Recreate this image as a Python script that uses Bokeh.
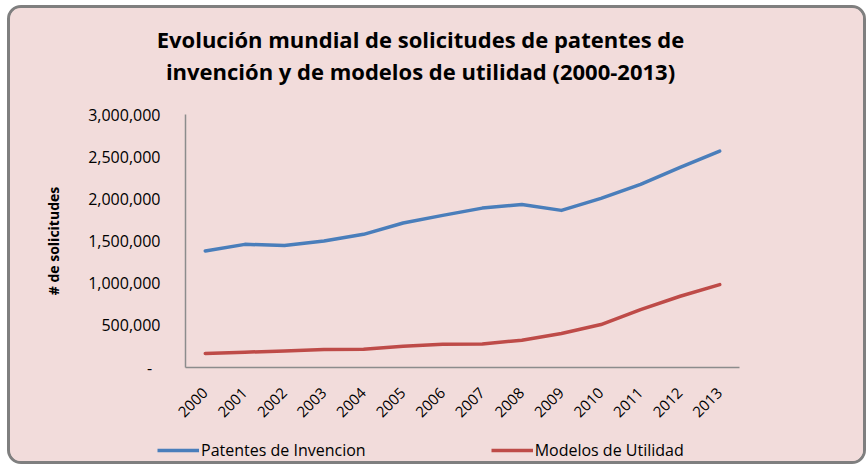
import math
from bokeh.plotting import figure
from bokeh.layouts import column
from bokeh.models import (FactorRange, Range1d, FixedTicker, Legend, LegendItem, Label)
from bokeh.embed import file_html
from bokeh.resources import INLINE

years = [str(y) for y in range(2000, 2014)]
patentes = [1381000, 1460000, 1448000, 1499000, 1579000, 1713000, 1804000,
            1890000, 1934000, 1863000, 2005000, 2171000, 2372000, 2566000]
modelos = [166000, 181000, 197000, 213000, 217000, 252000, 276000,
           280000, 323000, 403000, 509000, 687000, 845000, 983000]
y_ticks = [0, 500000, 1000000, 1500000, 2000000, 2500000, 3000000]
y_tick_labels = ["-\u00a0\u00a0", "500,000", "1,000,000", "1,500,000",
                 "2,000,000", "2,500,000", "3,000,000"]
title_lines = ["Evolución mundial de solicitudes de patentes de",
               "invención y de modelos de utilidad (2000-2013)"]
series_names = ["Patentes de Invencion", "Modelos de Utilidad"]
series_colors = ["#4A7EBB", "#BE4B48"]

PINK = "#F2DCDB"
FONT = "Open Sans"
W = 853
T_H, M_H, L_H = 88, 333, 32


def strip(height, x_range, y_range):
    f = figure(width=W, height=height, x_range=x_range, y_range=y_range,
               x_axis_location=None, y_axis_location=None, toolbar_location=None,
               output_backend="svg", min_border=0)
    f.background_fill_color = PINK
    f.border_fill_color = PINK
    f.outline_line_color = None
    f.grid.visible = False
    f.frame_align = False
    return f


# ---- title strip (pixel-unit ranges) ----
pt = strip(T_H, Range1d(0, W), Range1d(0, T_H))
for txt, yy in zip(title_lines, [58, 26]):
    pt.add_layout(Label(x=410, y=yy, text=txt, text_align="center",
                        text_baseline="middle", text_font=FONT,
                        text_font_style="bold", text_font_size="22px",
                        text_color="#000000"))

# ---- main chart ----
p = figure(width=W, height=M_H, x_range=FactorRange(*years, range_padding=0),
           y_range=Range1d(0, 3000000), output_backend="svg", toolbar_location=None,
           min_border_left=175, min_border_right=124, min_border_top=18,
           min_border_bottom=62)
p.frame_align = False
p.background_fill_color = PINK
p.border_fill_color = PINK
p.outline_line_color = None
p.xgrid.grid_line_color = None
p.ygrid.grid_line_color = None

for vals, col in zip([patentes, modelos], series_colors):
    p.line(years, vals, line_color=col, line_width=3.5,
           line_join="round", line_cap="round")

ya = p.yaxis[0]
ya.ticker = FixedTicker(ticks=y_ticks)
ya.major_label_overrides = {t: l for t, l in zip(y_ticks, y_tick_labels)}
ya.major_tick_line_color = None
ya.minor_tick_line_color = None
ya.major_tick_out = 0
ya.minor_tick_out = 0
ya.major_label_standoff = 25
ya.axis_line_color = "#8C8C8C"
ya.axis_line_width = 1.5
ya.major_label_text_font = FONT
ya.major_label_text_font_size = "16px"
ya.major_label_text_color = "#000000"
ya.axis_label = "# de solicitudes"
ya.axis_label_text_font = FONT
ya.axis_label_text_font_style = "bold"
ya.axis_label_text_font_size = "14px"
ya.axis_label_text_color = "#000000"
ya.axis_label_standoff = 22

xa = p.xaxis[0]
xa.major_tick_line_color = None
xa.minor_tick_line_color = None
xa.major_tick_out = 0
xa.axis_line_color = "#8C8C8C"
xa.axis_line_width = 1.5
xa.major_label_orientation = math.pi / 4
xa.major_label_standoff = 23
xa.major_label_text_font = FONT
xa.major_label_text_font_size = "15px"
xa.major_label_text_color = "#000000"

# ---- legend strip (series drawn out of view, only their legend shows) ----
pl = strip(L_H, FactorRange(*years, range_padding=0), Range1d(0, 1))
items = []
for name, vals, col in zip(series_names, [patentes, modelos], series_colors):
    r = pl.line(years, vals, line_color=col, line_width=3.5)
    items.append(LegendItem(label=name, renderers=[r]))
leg = Legend(items=items, location=(147, 0), orientation="horizontal",
             padding=0, margin=0, spacing=125, border_line_color=None,
             background_fill_alpha=0, glyph_width=42, label_standoff=2,
             label_text_font=FONT, label_text_font_size="16px",
             label_text_color="#000000")
pl.add_layout(leg)

layout = column(pt, p, pl, spacing=0)
layout.styles = {"border": "3px solid #7F7F7F", "border-radius": "14px",
                 "overflow": "hidden", "margin-left": "7px", "margin-top": "5px",
                 "background-color": PINK}

open("out.html", "w").write(file_html(layout, INLINE))
